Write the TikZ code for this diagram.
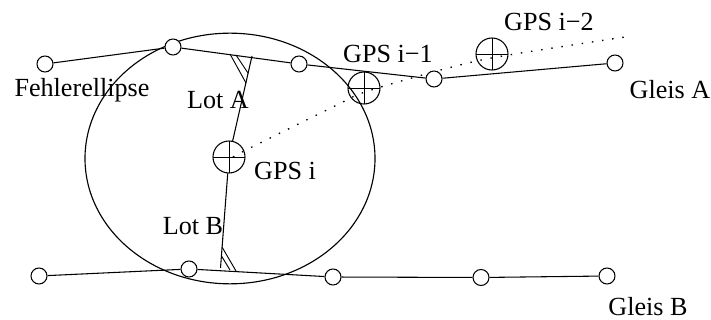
\documentclass[tikz,border=0pt]{standalone}
\usepackage{fontspec}
\setmainfont{Liberation Serif}
\usetikzlibrary{shapes.geometric}
\tikzset{
  x=0.75pt,y=-0.75pt,
  rail/.style={circle,draw,fill=white,inner sep=0pt,minimum size=12pt,line width=0.8pt},
  gps/.style={circle,draw,inner sep=0pt,minimum size=24pt,line width=0.8pt,
    path picture={\draw[line width=0.65pt] (path picture bounding box.north)--(path picture bounding box.south)
      (path picture bounding box.west)--(path picture bounding box.east);}},
  lbl/.style={inner sep=0pt,font=\fontsize{19.6}{22}\selectfont},
  track/.style={line width=0.8pt},
  hatch/.style={line width=0.7pt},
  fix/.style={dash pattern=on 1.1pt off 6.6pt,line width=1pt},
}
\begin{document}
\begin{tikzpicture}
\useasboundingbox (0,0) rectangle (711,320);
\node[ellipse,draw,inner sep=0pt,minimum width=217.5pt,minimum height=188pt,line width=0.85pt] (err) at (230,158.5) {};
\coordinate (d0) at (233,157);
\coordinate (d1) at (252,147);
\coordinate (d2) at (337,105);
\coordinate (d3) at (365,92);
\coordinate (d4) at (437,71);
\coordinate (d5) at (497,57);
\coordinate (d6) at (625,37);
\draw[fix] plot[smooth,tension=0.5] coordinates {(d0) (d1) (d2) (d3) (d4) (d5) (d6)};
\node[rail] (a1) at (45,64) {};
\node[rail] (a2) at (173,47) {};
\node[rail] (a3) at (299,64) {};
\node[rail] (a4) at (434,79) {};
\node[rail] (a5) at (615,63) {};
\node[rail] (b1) at (39,276) {};
\node[rail] (b2) at (189,269) {};
\node[rail] (b3) at (333,277) {};
\node[rail] (b4) at (481,277.5) {};
\node[rail] (b5) at (607,276) {};
\node[gps] (g0) at (229,157) {};
\node[gps] (g1) at (364,88) {};
\node[gps] (g2) at (492,54) {};
\draw[track] (a1)--(a2);\draw[track] (a2)--(a3);\draw[track] (a3)--(a4);\draw[track] (a4)--(a5);
\draw[track] (b1)--(b2);\draw[track] (b2)--(b3);\draw[track] (b3)--(b4);\draw[track] (b4)--(b5);
\coordinate (fa) at (252,56);
\coordinate (fb) at (220.5,268);
\draw[track] (fa)--(g0);
\draw[track] (g0)--(fb);
\coordinate (ha1) at (230,54);\coordinate (ha2) at (246,83);
\coordinate (ha3) at (236,55);\coordinate (ha4) at (248,73);
\coordinate (hb1) at (222,247);\coordinate (hb2) at (236,271);
\coordinate (hb3) at (221.5,256);\coordinate (hb4) at (230,270);
\draw[hatch] (ha1)--(ha2) (ha3)--(ha4) (hb1)--(hb2) (hb3)--(hb4);
\node[lbl] (t1) at (82,90) {Fehlerellipse};
\node[lbl] (t2) at (218,100) {Lot A};
\node[lbl] (t3) at (193,226) {Lot B};
\node[lbl] (t4) at (285,171) {GPS i};
\node[lbl] (t5) at (388,54) {GPS i−1};
\node[lbl] (t6) at (549,22) {GPS i−2};
\node[lbl] (t7) at (670,90) {Gleis A};
\node[lbl] (t8) at (648,306.5) {Gleis B};
\end{tikzpicture}
\end{document}
